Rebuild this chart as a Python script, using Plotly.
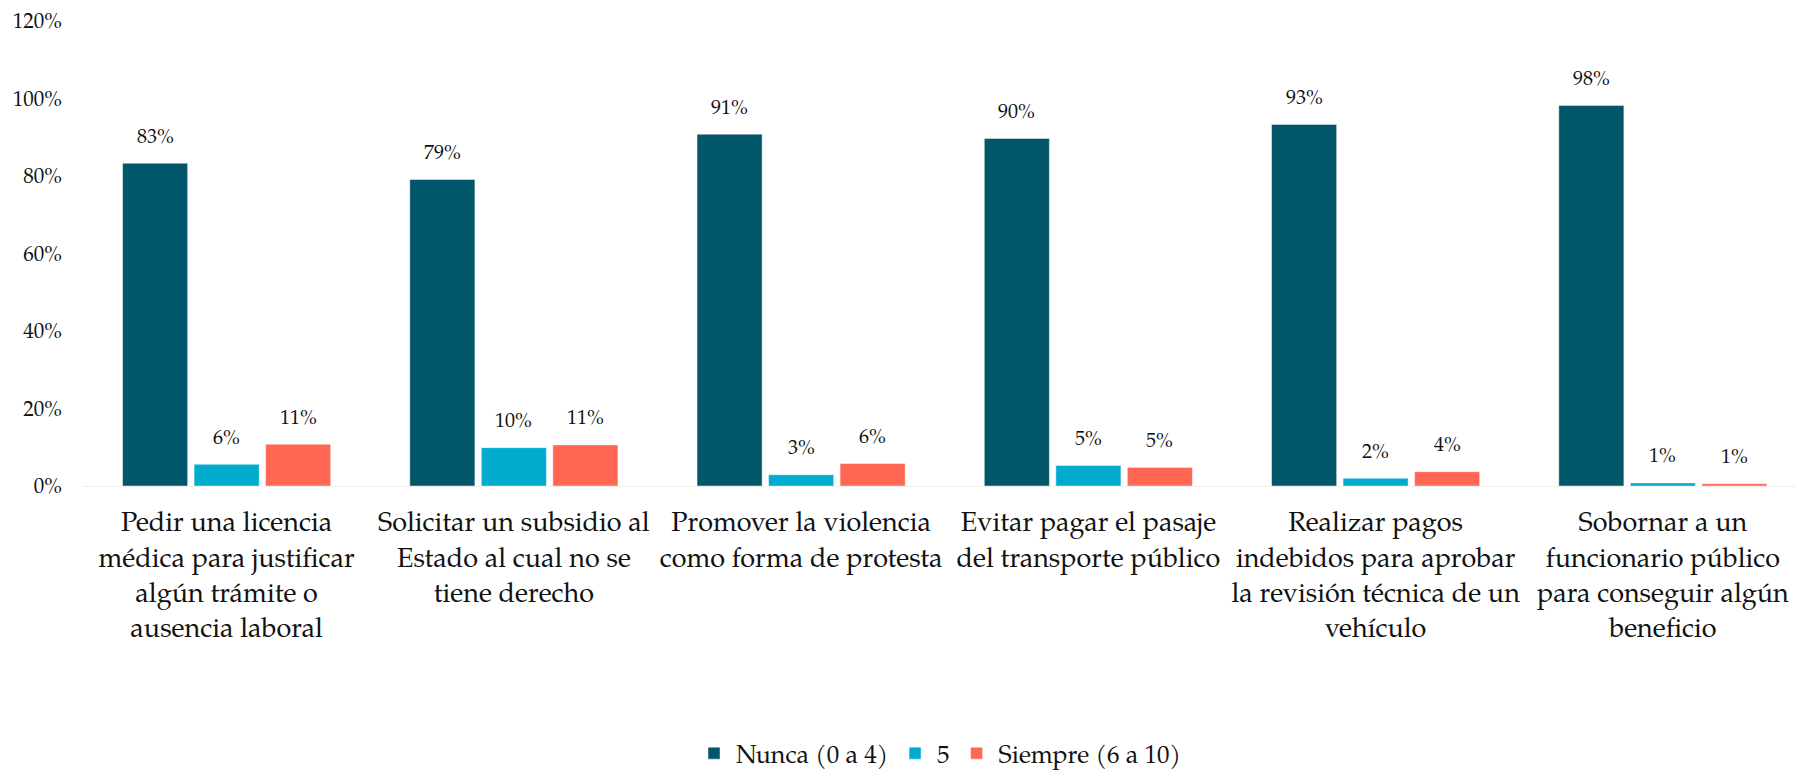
import plotly.graph_objects as go

# data
categories = [
    "Pedir una licencia<br>médica para justificar<br>algún trámite o<br>ausencia laboral",
    "Solicitar un subsidio al<br>Estado al cual no se<br>tiene derecho",
    "Promover la violencia<br>como forma de protesta",
    "Evitar pagar el pasaje<br>del transporte público",
    "Realizar pagos<br>indebidos para aprobar<br>la revisión técnica de un<br>vehículo",
    "Sobornar a un<br>funcionario público<br>para conseguir algún<br>beneficio",
]
series_names = ["Nunca (0 a 4)", "5", "Siempre (6 a 10)"]
nunca = [0.833, 0.791, 0.908, 0.897, 0.933, 0.982]
cinco = [0.056, 0.099, 0.029, 0.053, 0.020, 0.008]
siempre = [0.108, 0.106, 0.058, 0.048, 0.037, 0.006]
y_ticks = [0, 0.2, 0.4, 0.6, 0.8, 1.0, 1.2]

colors = ["#02566A", "#00ABCD", "#FF6752"]
FONT = "Palatino Linotype, Book Antiqua, Palatino, P052, TeX Gyre Pagella, URW Palladio L, Liberation Serif, serif"

fig = go.Figure()
annots = []
slot = 71.5  # px between bar centres within a group
for k, (name, vals, col) in enumerate(zip(series_names, [nunca, cinco, siempre], colors)):
    fig.add_trace(go.Bar(
        x=categories, y=vals, name=name,
        marker=dict(color=col, line=dict(color="rgba(255,255,255,0.45)", width=1)),
        hoverinfo="skip",
    ))
    for c, v in zip(categories, vals):
        annots.append(dict(
            x=c, y=v, xref="x", yref="y", text=f"{round(v * 100)}%",
            showarrow=False, xshift=(k - 1) * slot, yshift=25,
            yanchor="middle", font=dict(size=20, color="#111111", family=FONT),
        ))

fig.update_layout(
    width=1795, height=776,
    barmode="group", bargap=0.253, bargroupgap=0.09,
    plot_bgcolor="white", paper_bgcolor="white",
    margin=dict(l=83, r=0, t=21, b=290, autoexpand=False),
    font=dict(family=FONT, color="#111111"),
    annotations=annots,
    legend=dict(
        orientation="h", x=0.5, xanchor="center", y=-0.575, yanchor="middle",
        font=dict(size=25, family=FONT, color="#111111"),
        itemwidth=34, traceorder="normal",
    ),
)
fig.update_xaxes(
    range=[-0.5, 5.46], showgrid=False, showline=True, linecolor="#EFEFEF",
    linewidth=1, ticks="", tickangle=0,
    tickfont=dict(size=27, family=FONT, color="#111111"),
    ticklabelstandoff=12, automargin=False,
)
fig.update_yaxes(
    range=[0, 1.2], tickvals=y_ticks, tickformat=".0%", showgrid=False,
    zeroline=False, showline=False, ticks="", automargin=False,
    tickfont=dict(size=21, family=FONT, color="#111111"), ticklabelstandoff=20,
)

# page body has a default 8px margin; drop it so the figure fills the window
fig.write_html("out.html", config={"displayModeBar": False},
               post_script="document.body.style.margin='0';")
